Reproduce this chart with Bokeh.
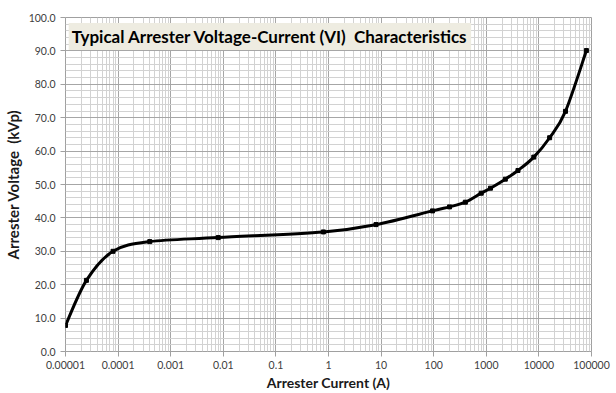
import math
from bokeh.plotting import figure
from bokeh.models import FixedTicker, Label, ColumnDataSource
from bokeh.embed import file_html
from bokeh.resources import INLINE

# ---- data ----
current_a = [0.00001, 0.000025, 0.00008, 0.0004, 0.008, 0.8, 8, 95,
             200, 400, 800, 1200, 2300, 4000, 8000, 16000, 32000, 80000]
voltage_kvp = [7.8, 21.3, 30.0, 32.9, 34.1, 35.8, 38.0, 42.1,
               43.3, 44.7, 47.4, 48.9, 51.6, 54.2, 58.2, 64.0, 71.9, 90.1]

x_tick_values = [1e-5, 1e-4, 1e-3, 1e-2, 1e-1, 1, 10, 100, 1000, 10000, 100000]
x_tick_labels = ["0.00001", "0.0001", "0.001", "0.01", "0.1", "1", "10",
                 "100", "1000", "10000", "100000"]
y_tick_values = [0, 10, 20, 30, 40, 50, 60, 70, 80, 90, 100]
y_tick_labels = ["0.0", "10.0", "20.0", "30.0", "40.0", "50.0", "60.0",
                 "70.0", "80.0", "90.0", "100.0"]

title_text = "Typical Arrester Voltage-Current (VI)\u00a0\u00a0Characteristics"
x_title = "Arrester Current (A)"
y_title = "Arrester Voltage\u00a0\u00a0(kVp)"

# ---- figure ----
p = figure(width=616, height=393, x_axis_type="log",
           x_range=(1e-5, 1e5), y_range=(0, 100),
           output_backend="svg", toolbar_location=None,
           min_border_left=65, min_border_right=25,
           min_border_top=17, min_border_bottom=39)
p.background_fill_color = "white"
p.border_fill_color = "white"
p.outline_line_color = "#a0a0a0"

x_minor = [m * 10.0 ** e for e in range(-5, 5) for m in range(2, 10)]
y_minor = [v for v in range(0, 101, 2) if v % 10 != 0]
p.xaxis.ticker = FixedTicker(ticks=x_tick_values, minor_ticks=x_minor)
p.yaxis.ticker = FixedTicker(ticks=y_tick_values, minor_ticks=y_minor)
p.xaxis.major_label_overrides = {v: l for v, l in zip(x_tick_values, x_tick_labels)}
p.yaxis.major_label_overrides = {v: l for v, l in zip(y_tick_values, y_tick_labels)}

for g in (p.xgrid, p.ygrid):
    g.grid_line_color = "#a6a6a6"
    g.grid_line_width = 1
    g.minor_grid_line_color = "#d2d2d2"
    g.minor_grid_line_width = 1

for ax in (p.xaxis, p.yaxis):
    ax.axis_line_color = None
    ax.major_tick_line_color = "#a0a0a0"
    ax.major_tick_out = 5
    ax.major_tick_in = 0
    ax.minor_tick_line_color = None
    ax.major_label_text_font = "Lato"
    ax.major_label_text_font_size = "10.5px"
    ax.major_label_text_color = "#404040"
    ax.axis_label_text_font = "Lato"
    ax.axis_label_text_font_style = "bold"
    ax.axis_label_text_color = "#1a1a1a"

p.xaxis.axis_label = x_title
p.yaxis.axis_label = y_title
p.xaxis.axis_label_text_font_size = "14px"
p.yaxis.axis_label_text_font_size = "15px"
p.xaxis.major_label_standoff = 4
p.xaxis.axis_label_standoff = 2
p.yaxis.major_label_standoff = 5
p.yaxis.axis_label_standoff = 4

# ---- smoothed line (Excel-style smoothing via Bezier segments) ----
u = [math.log10(c) for c in current_a]
v = voltage_kvp
n = len(u)
seg = dict(x0=[], y0=[], x1=[], y1=[], cx0=[], cy0=[], cx1=[], cy1=[])
for i in range(n - 1):
    i0 = max(i - 1, 0)
    i3 = min(i + 2, n - 1)
    c1u = u[i] + (u[i + 1] - u[i0]) / 6.0
    c1v = v[i] + (v[i + 1] - v[i0]) / 6.0
    c2u = u[i + 1] - (u[i3] - u[i]) / 6.0
    c2v = v[i + 1] - (v[i3] - v[i]) / 6.0
    seg["x0"].append(current_a[i]); seg["y0"].append(v[i])
    seg["x1"].append(current_a[i + 1]); seg["y1"].append(v[i + 1])
    seg["cx0"].append(10 ** c1u); seg["cy0"].append(c1v)
    seg["cx1"].append(10 ** c2u); seg["cy1"].append(c2v)

p.bezier(x0="x0", y0="y0", x1="x1", y1="y1", cx0="cx0", cy0="cy0",
         cx1="cx1", cy1="cy1", source=ColumnDataSource(seg),
         line_color="black", line_width=3, line_cap="round")

p.scatter(current_a, voltage_kvp, marker="square", size=4,
          fill_color="black", line_color="black")

# ---- title box inside the plot ----
title = Label(x=1.15e-5, y=94.3, text=title_text,
              text_font="Lato", text_font_style="bold",
              text_font_size="17px", text_color="black",
              text_baseline="alphabetic", text_align="left",
              background_fill_color="#EEECE1", padding=3)
p.add_layout(title)

open("out.html", "w").write(file_html(p, INLINE))
